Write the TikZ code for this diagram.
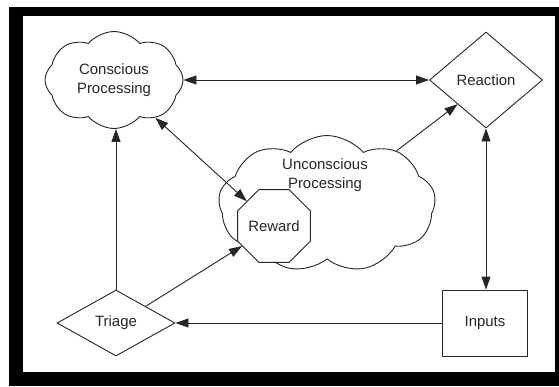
\documentclass[tikz,border=0pt]{standalone}
\usepackage{fontspec}
\setmainfont{Liberation Sans}
\usetikzlibrary{shapes.geometric,shapes.symbols,arrows.meta}
\begin{document}
\begin{tikzpicture}[x=1bp,y=-1bp,
  ln/.style={draw=black!85,line width=0.9bp},
  lbl/.style={font=\fontsize{15}{19}\selectfont,align=center,text=black!85},
  cloudbox/.style={ln,cloud,fill=white,inner sep=0pt,aspect=1.5,cloud puff arc=100},
  diabox/.style={ln,diamond,fill=white,inner sep=0pt,lbl},
  arr/.style={ln,-{Triangle[length=13bp,width=9bp]}},
  darr/.style={ln,{Triangle[length=13bp,width=9bp]}-{Triangle[length=13bp,width=9bp]}}]
\useasboundingbox (0,0) rectangle (559,386);
\fill[black] (9,7) rectangle (559,386);
\fill[white] (23,16) rectangle (555,372);
% nodes
\node[cloudbox,cloud puffs=8,minimum width=138bp,minimum height=97bp,lbl] (cons) at (114,80) {Conscious\\Processing};
\node[cloudbox,cloud puffs=9,minimum width=217bp,minimum height=137bp] (unc) at (327,204) {};
\node[lbl] (unctext) at (325,175) {Unconscious\\Processing};
\node[ln,regular polygon,regular polygon sides=8,minimum size=73bp,inner sep=0pt,fill=white,lbl] (rew) at (274,226) {Reward};
\node[diabox,minimum width=113bp,minimum height=96bp] (rea) at (486,80) {Reaction};
\node[diabox,minimum width=118bp,minimum height=66bp] (tri) at (116,323) {Triage};
\node[ln,rectangle,minimum width=85bp,minimum height=66bp,inner sep=0pt,lbl] (inp) at (485,323) {Inputs};
% connectors
\draw[darr] (cons.east |- rea.west) -- (rea.west);
\draw[darr] (cons) -- (rew);
\draw[arr] (tri.north) -- (tri.north |- cons.south);
\draw[arr] (tri.north east) -- (rew);
\draw[arr] (inp.west) -- (tri.east);
\draw[darr] (rea.south) -- (rea.south |- inp.north);
\draw[arr] (unc) -- (rea.south west);
\end{tikzpicture}
\end{document}
